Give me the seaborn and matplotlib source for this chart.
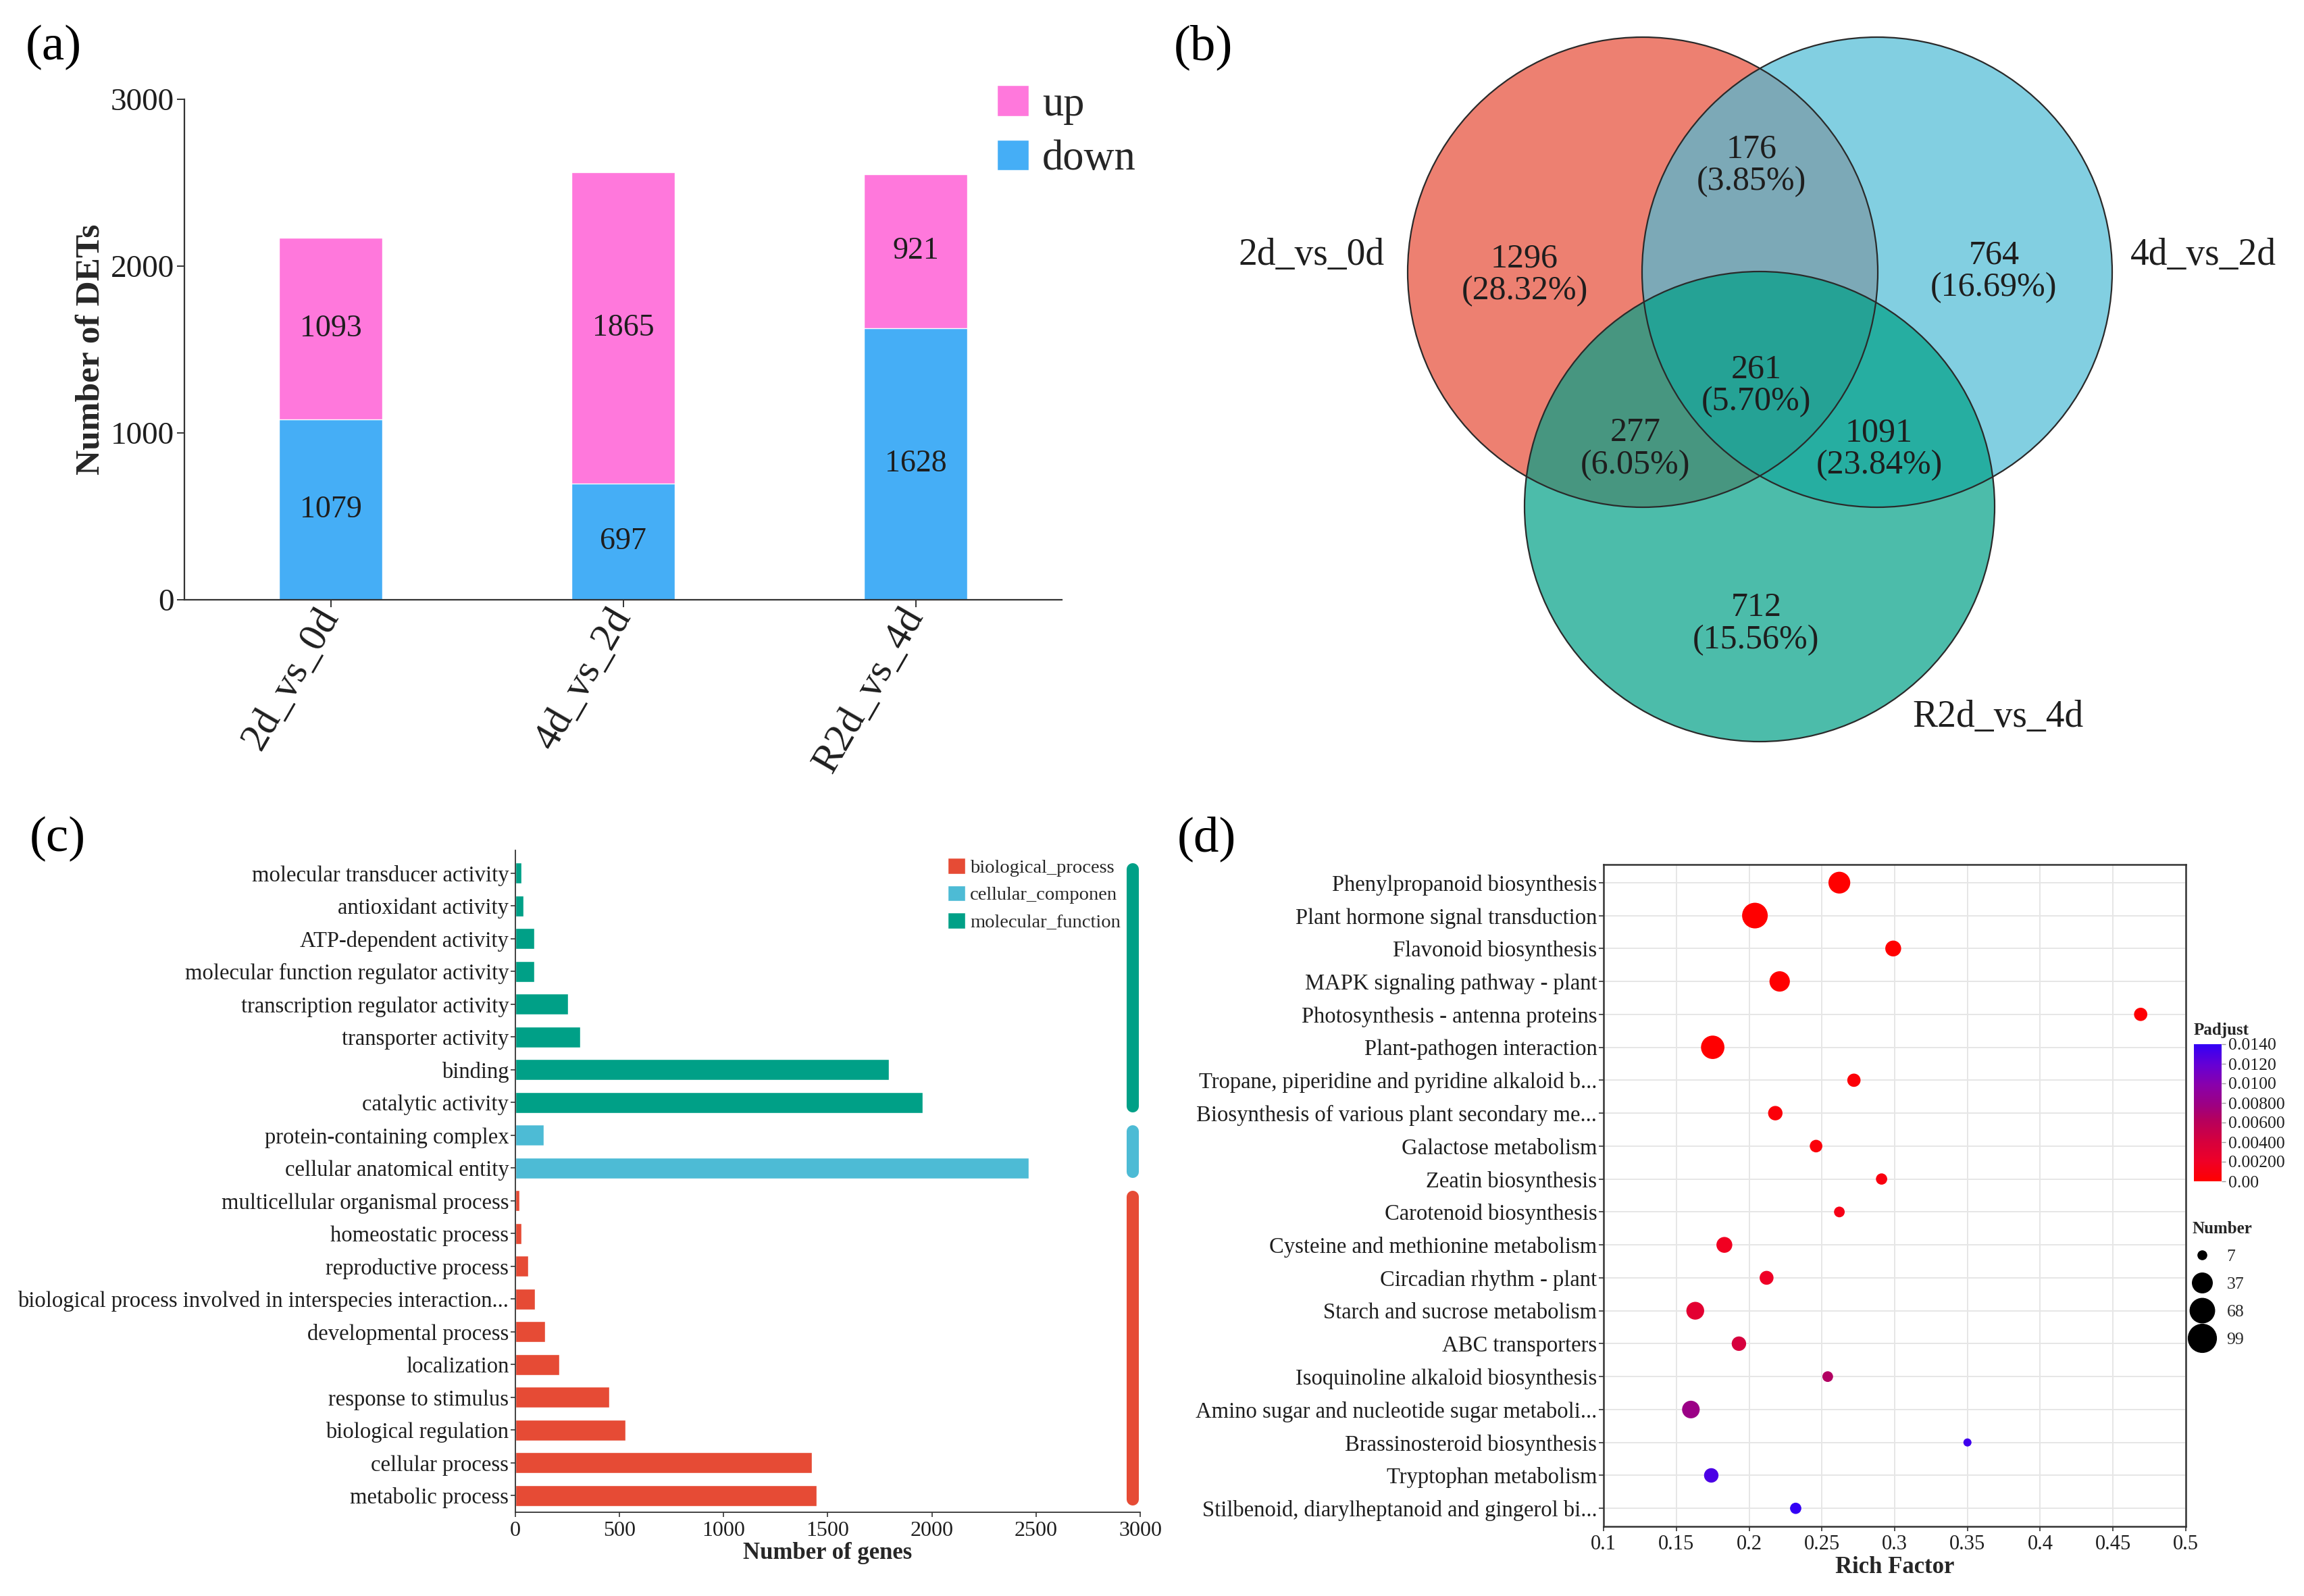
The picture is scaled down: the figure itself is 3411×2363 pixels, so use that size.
import numpy as np
import pandas as pd
import matplotlib
matplotlib.use("Agg")
import matplotlib.pyplot as plt
import seaborn as sns
from matplotlib.patches import Patch, Circle
from matplotlib.lines import Line2D
from matplotlib.colors import LinearSegmentedColormap, Normalize
from matplotlib.cm import ScalarMappable

# (a) DETs per comparison
comparisons = ["2d_vs_0d", "4d_vs_2d", "R2d_vs_4d"]
n_down = [1079, 697, 1628]
n_up = [1093, 1865, 921]

# (b) Venn regions: A=2d_vs_0d, B=4d_vs_2d, C=R2d_vs_4d
venn_sets = ["2d_vs_0d", "4d_vs_2d", "R2d_vs_4d"]
venn_regions = ["A", "B", "AB", "C", "AC", "BC", "ABC"]
venn_counts = [1296, 764, 176, 712, 277, 1091, 261]

# (c) GO classification
go_terms = [
    "molecular transducer activity", "antioxidant activity", "ATP-dependent activity",
    "molecular function regulator activity", "transcription regulator activity",
    "transporter activity", "binding", "catalytic activity",
    "protein-containing complex", "cellular anatomical entity",
    "multicellular organismal process", "homeostatic process", "reproductive process",
    "biological process involved in interspecies interaction...", "developmental process",
    "localization", "response to stimulus", "biological regulation",
    "cellular process", "metabolic process",
]
go_counts = [30, 40, 90, 92, 252, 310, 1792, 1955, 135, 2466,
             20, 30, 62, 93, 143, 210, 451, 528, 1425, 1447]
go_class = ["molecular_function"] * 8 + ["cellular_componen"] * 2 + ["biological_process"] * 10
go_order = ["biological_process", "cellular_componen", "molecular_function"]

# (d) KEGG enrichment
kegg_paths = [
    "Phenylpropanoid biosynthesis", "Plant hormone signal transduction",
    "Flavonoid biosynthesis", "MAPK signaling pathway - plant",
    "Photosynthesis - antenna proteins", "Plant-pathogen interaction",
    "Tropane, piperidine and pyridine alkaloid b...",
    "Biosynthesis of various plant secondary me...", "Galactose metabolism",
    "Zeatin biosynthesis", "Carotenoid biosynthesis",
    "Cysteine and methionine metabolism", "Circadian rhythm - plant",
    "Starch and sucrose metabolism", "ABC transporters",
    "Isoquinoline alkaloid biosynthesis", "Amino sugar and nucleotide sugar metaboli...",
    "Brassinosteroid biosynthesis", "Tryptophan metabolism",
    "Stilbenoid, diarylheptanoid and gingerol bi...",
]
rich_factor = [0.262, 0.204, 0.299, 0.221, 0.469, 0.175, 0.272, 0.218, 0.246, 0.291,
               0.262, 0.183, 0.212, 0.163, 0.193, 0.254, 0.160, 0.350, 0.174, 0.232]
kegg_number = [63, 99, 25, 52, 15, 77, 15, 19, 13, 10,
               9, 25, 17, 35, 19, 9, 34, 7, 19, 10]
padjust = [0.00002, 0.00001, 0.00005, 0.00008, 0.0002, 0.0001, 0.0004, 0.0005, 0.0006, 0.0008,
           0.0012, 0.0018, 0.0020, 0.0030, 0.0040, 0.0065, 0.0080, 0.0135, 0.0130, 0.0140]
padj_ticks = [0, 0.002, 0.004, 0.006, 0.008, 0.010, 0.012, 0.014]
padj_ticklabels = ["0.00", "0.00200", "0.00400", "0.00600", "0.00800", "0.0100", "0.0120", "0.0140"]
size_breaks = [7, 37, 68, 99]

PINK, BLUE = "#FF78DC", "#45AEF6"
NPG = {"biological_process": "#E64B35", "cellular_componen": "#4DBBD5",
       "molecular_function": "#00A087"}
INK = "#1e1e1e"

sns.set_theme(style="white")
plt.rcParams["font.family"] = ["Liberation Serif", "DejaVu Serif"]
plt.rcParams["axes.edgecolor"] = "#333333"

W, H = 3411, 2363
fig = plt.figure(figsize=(W / 100, H / 100), dpi=100)


def box(x0, y0, x1, y1):
    # pixel box (top-left origin) -> figure fraction rect
    return [x0 / W, 1 - y1 / H, (x1 - x0) / W, (y1 - y0) / H]


# ---------------- (a) stacked bars
ax_a = fig.add_axes(box(273, 147, 1572, 888))
df_a = pd.DataFrame({"comparison": comparisons, "down": n_down, "up": n_up})
df_a["total"] = df_a["down"] + df_a["up"]
sns.barplot(data=df_a, x="comparison", y="total", color=PINK, width=0.355,
            saturation=1, errorbar=None, ax=ax_a)
sns.barplot(data=df_a, x="comparison", y="down", color=BLUE, width=0.355,
            saturation=1, errorbar=None, ax=ax_a)
for i, (d, u) in enumerate(zip(n_down, n_up)):
    ax_a.text(i, d / 2, str(d), ha="center", va="center", fontsize=33, color=INK)
    ax_a.text(i, d + u / 2, str(u), ha="center", va="center", fontsize=33, color=INK)
ax_a.set_xlim(-0.5, 2.5)
ax_a.set_ylim(0, 3000)
ax_a.set_yticks([0, 1000, 2000, 3000])
sns.despine(ax=ax_a)
for s in ["left", "bottom"]:
    ax_a.spines[s].set_linewidth(1.6)
ax_a.tick_params(axis="both", direction="out", length=8, width=1.4, color="#333333",
                 labelcolor=INK, left=True, bottom=True)
ax_a.tick_params(axis="y", labelsize=34, pad=3)
ax_a.tick_params(axis="x", labelsize=43, pad=4)
plt.setp(ax_a.get_xticklabels(), rotation=60, ha="right", va="center", rotation_mode="anchor")
ax_a.set_xlabel("")
ax_a.set_ylabel("Number of DETs", fontsize=37, fontweight="bold", labelpad=4)
ax_a.legend(handles=[Patch(facecolor=PINK, label="up"), Patch(facecolor=BLUE, label="down")],
            loc="upper left", bbox_to_anchor=(1476 / W, 1 - 126 / H),
            bbox_transform=fig.transFigure, frameon=False, fontsize=45,
            handlelength=0.75, handleheight=0.75, handletextpad=0.32,
            labelspacing=0.35, borderpad=0, borderaxespad=0)

# ---------------- (b) Venn diagram
ax_b = fig.add_axes(box(1705, 0, 3411, 1180))
ax_b.set_xlim(1705, 3411)
ax_b.set_ylim(1180, 0)
ax_b.axis("off")
centers = [(2432, 403), (2779, 403), (2605, 750)]
radius = 348
venn_colors = ["#E64B35", "#4DBBD5", "#00A087"]
for (cx, cy), col in zip(centers, venn_colors):
    ax_b.add_patch(Circle((cx, cy), radius, facecolor=col, edgecolor="none", alpha=0.7))
for cx, cy in centers:
    ax_b.add_patch(Circle((cx, cy), radius, fill=False, edgecolor="#2a2a2a", lw=1.6))
region_xy = {"A": (2257, 407), "B": (2952, 402), "AB": (2593, 245), "C": (2600, 924),
             "AC": (2421, 665), "BC": (2782, 665), "ABC": (2600, 571)}
total = sum(venn_counts)
for reg, n in zip(venn_regions, venn_counts):
    x, y = region_xy[reg]
    ax_b.text(x, y, f"{n}\n({n / total * 100:.2f}%)", ha="center", va="center",
              fontsize=36, color=INK, linespacing=1.05)
ax_b.text(2050, 378, venn_sets[0], ha="right", va="center", fontsize=40, color=INK)
ax_b.text(3154, 378, venn_sets[1], ha="left", va="center", fontsize=40, color=INK)
ax_b.text(2831, 1062, venn_sets[2], ha="left", va="center", fontsize=40, color=INK)

# ---------------- (c) GO bars
ax_c = fig.add_axes(box(763, 1259, 1688, 2239))
df_c = pd.DataFrame({"term": go_terms, "count": go_counts, "ontology": go_class})
sns.barplot(data=df_c, y="term", x="count", hue="ontology", hue_order=go_order,
            palette=NPG, dodge=False, width=0.64, saturation=1, errorbar=None,
            legend=False, ax=ax_c)
n_go = len(go_terms)
ax_c.set_ylim(n_go - 1 + 0.51, -0.7)
ax_c.set_xlim(0, 3000)
ax_c.set_xticks(range(0, 3001, 500))
for grp in go_order:
    idx = [i for i, g in enumerate(go_class) if g == grp]
    ax_c.plot([2965, 2965], [min(idx) - 0.12, max(idx) + 0.12], color=NPG[grp], lw=13,
              solid_capstyle="round", clip_on=False)
sns.despine(ax=ax_c)
for s in ["left", "bottom"]:
    ax_c.spines[s].set_linewidth(1.3)
ax_c.tick_params(axis="both", direction="out", length=5, width=1.2, color="#333333",
                 labelcolor=INK, left=True, bottom=True)
ax_c.tick_params(axis="y", labelsize=23.5, pad=2)
ax_c.tick_params(axis="x", labelsize=23, pad=4)
ax_c.set_ylabel("")
ax_c.set_xlabel("Number of genes", fontsize=25, fontweight="bold", labelpad=2)
ax_c.legend(handles=[Patch(facecolor=NPG[g], label=g) for g in go_order],
            loc="upper left", bbox_to_anchor=(1403 / W, 1 - 1270 / H),
            bbox_transform=fig.transFigure, frameon=False, fontsize=20.5,
            handlelength=0.91, handleheight=0.91, handletextpad=0.25,
            labelspacing=0.45, borderpad=0, borderaxespad=0)

# ---------------- (d) KEGG bubble plot
cmap = LinearSegmentedColormap.from_list(
    "padj", [(0, "#FF0000"), (0.15, "#EE0028"), (0.3, "#D4003F"), (0.45, "#B5005E"),
             (0.55, "#9E0080"), (0.7, "#8A00AA"), (0.85, "#6600D4"), (1, "#3300F5")])
padj_norm = Normalize(0, 0.014)
d_min, d_max = 12, 38  # bubble diameters in px
n_min, n_max = min(kegg_number), max(kegg_number)


def bubble_pt(n):
    return (d_min + (d_max - d_min) * np.sqrt((n - n_min) / (n_max - n_min))) * 0.72


df_d = pd.DataFrame({"pathway": kegg_paths, "rich": rich_factor,
                     "number": kegg_number, "padj": padjust})
ax_d = fig.add_axes(box(2374, 1280, 3236, 2260))
sns.scatterplot(data=df_d, x="rich", y="pathway", hue="padj", palette=cmap,
                hue_norm=padj_norm, size="number",
                sizes={n: bubble_pt(n) ** 2 for n in set(kegg_number)},
                linewidth=0, legend=False, zorder=3, ax=ax_d)
n_kegg = len(kegg_paths)
ax_d.set_yticks(range(n_kegg))
ax_d.set_yticklabels(kegg_paths)
ax_d.set_ylim(n_kegg - 1 + 0.55, -0.55)
xt = np.round(np.arange(0.1, 0.501, 0.05), 2)
ax_d.set_xlim(0.1, 0.5)
ax_d.set_xticks(xt)
ax_d.set_xticklabels([f"{t:g}" for t in xt])
ax_d.grid(True, color="#E6E6E6", lw=1.4)
ax_d.set_axisbelow(True)
for s in ax_d.spines.values():
    s.set_linewidth(1.8)
    s.set_color("#333333")
ax_d.tick_params(axis="both", direction="out", length=5, width=1.2, color="#333333",
                 labelcolor=INK, left=True, bottom=True)
ax_d.tick_params(axis="y", labelsize=23.5, pad=2)
ax_d.tick_params(axis="x", labelsize=22, pad=4)
ax_d.set_ylabel("")
ax_d.set_xlabel("Rich Factor", fontsize=25, fontweight="bold", labelpad=2)

cax = fig.add_axes(box(3248, 1546, 3289, 1749))
cb = fig.colorbar(ScalarMappable(norm=padj_norm, cmap=cmap), cax=cax)
cb.set_ticks(padj_ticks)
cb.set_ticklabels(padj_ticklabels)
cb.outline.set_visible(False)
cax.tick_params(labelsize=18.5, length=4, width=1, color="#999999", pad=3, labelcolor=INK)
cax.set_title("Padjust", loc="left", fontsize=18, fontweight="bold", pad=10)

size_handles = [Line2D([], [], ls="none", marker="o", color="black",
                       markersize=bubble_pt(n) * 1.1, label=str(n)) for n in size_breaks]
ax_d.legend(handles=size_handles, title="Number", loc="upper left",
            bbox_to_anchor=(3245 / W, 1 - 1808 / H), bbox_transform=fig.transFigure,
            frameon=False, fontsize=18.5, title_fontproperties={"weight": "bold", "size": 18},
            handlelength=1.2, handletextpad=0.8, labelspacing=0.7,
            borderpad=0, borderaxespad=0, alignment="left")

# panel letters
for lbl, (px, py) in zip(["(a)", "(b)", "(c)", "(d)"],
                         [(38, 70), (1738, 70), (44, 1242), (1743, 1242)]):
    fig.text(px / W, 1 - py / H, lbl, fontsize=54, ha="left", va="center", color="black")

fig.savefig("out.png", dpi=100)
